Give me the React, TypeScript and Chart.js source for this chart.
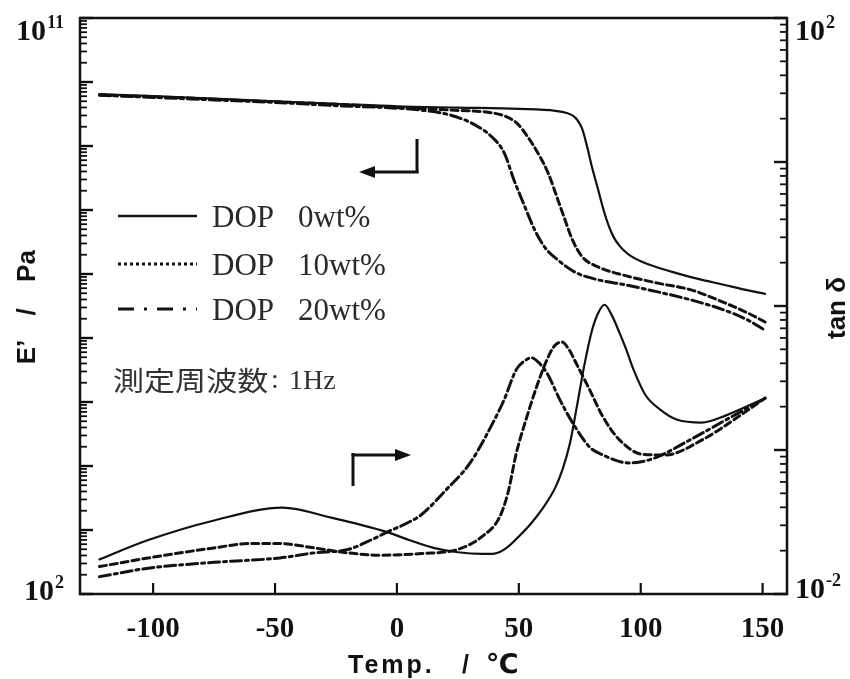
import React, { useEffect, useRef } from "react";
import { Chart, registerables } from "chart.js";

Chart.register(...registerables);

// ---------- data ----------
// Storage modulus E' (Pa)
const TEMP_E_DOP0 = [-122, -100, -75, -50, -25, 0, 25, 50, 65, 70, 72, 74, 76, 78, 80, 82.5, 85, 87, 89, 91, 93, 96, 100, 107, 114, 124, 134, 142, 151];
const E_DOP0 = [6.46e9, 6.03e9, 5.5e9, 5.0e9, 4.57e9, 4.17e9, 3.98e9, 3.8e9, 3.55e9, 3.25e9, 3.0e9, 2.55e9, 1.85e9, 9.8e8, 4.7e8, 2.1e8, 9.3e7, 5.5e7, 3.7e7, 2.85e7, 2.35e7, 1.9e7, 1.58e7, 1.26e7, 1.05e7, 8.3e6, 6.8e6, 5.75e6, 4.9e6];

const TEMP_E_DOP10 = [-122, -100, -75, -50, -25, 0, 25, 39, 45.5, 49.6, 53.7, 57.8, 62, 66, 69, 72, 76, 82.5, 93.4, 107, 121, 134, 144, 151];
const E_DOP10 = [6.3e9, 5.9e9, 5.4e9, 4.9e9, 4.5e9, 4.0e9, 3.6e9, 3.3e9, 2.8e9, 2.2e9, 1.38e9, 7.8e8, 3.8e8, 1.45e8, 6.9e7, 3.4e7, 1.86e7, 1.29e7, 9.5e6, 7.2e6, 5.6e6, 3.6e6, 2.45e6, 1.78e6];

const TEMP_E_DOP20 = [-122, -100, -75, -50, -25, 0, 11, 22.5, 32, 39, 44, 48, 52.5, 56.5, 60.7, 66, 73, 82.5, 93.4, 107, 121, 134, 144, 151];
const E_DOP20 = [6.2e9, 5.75e9, 5.25e9, 4.8e9, 4.27e9, 3.9e9, 3.6e9, 3.0e9, 2.14e9, 1.38e9, 7.8e8, 2.95e8, 1.12e8, 4.9e7, 2.6e7, 1.66e7, 1.07e7, 8.1e6, 6.8e6, 5.25e6, 3.9e6, 2.75e6, 1.9e6, 1.32e6];

// Loss tangent tan δ
const TEMP_T_DOP0 = [-122, -102, -75, -47, -27, -4, 5, 15, 25, 35, 40, 45, 50, 55, 60, 65, 68, 71, 74, 77, 80, 82.5, 85.2, 88, 91.4, 94, 97, 102, 108, 115, 125, 135, 151];
const TAN_DOP0 = [0.0174, 0.0237, 0.0324, 0.0398, 0.0339, 0.0269, 0.0237, 0.0209, 0.0195, 0.019, 0.0191, 0.0209, 0.0251, 0.0309, 0.0398, 0.055, 0.074, 0.112, 0.209, 0.398, 0.676, 0.891, 1.02, 0.871, 0.646, 0.501, 0.363, 0.24, 0.191, 0.162, 0.155, 0.174, 0.229];

const TEMP_T_DOP10 = [-122, -102, -75, -60, -48, -34, -20, -7, 10, 25, 35, 42, 45.5, 49, 53.3, 57.3, 61.5, 64.5, 67.6, 70.5, 73.6, 79, 84.5, 91.4, 100.8, 110, 125, 140, 151];
const TAN_DOP10 = [0.0155, 0.0178, 0.0209, 0.0224, 0.0224, 0.0209, 0.0193, 0.0186, 0.0191, 0.0204, 0.0251, 0.0339, 0.0501, 0.0955, 0.17, 0.275, 0.422, 0.525, 0.562, 0.501, 0.398, 0.263, 0.17, 0.117, 0.0933, 0.0923, 0.117, 0.17, 0.229];

const TEMP_T_DOP20 = [-122, -102, -75, -48, -34, -20, -10, -4, 5, 10, 20, 30, 40, 44, 49, 52.5, 55.2, 58, 61.5, 66.8, 72, 79, 84.5, 95, 105, 120, 135, 151];
const TAN_DOP20 = [0.0132, 0.0151, 0.0166, 0.0178, 0.0193, 0.0204, 0.024, 0.0269, 0.0316, 0.0355, 0.0525, 0.0813, 0.162, 0.224, 0.363, 0.417, 0.437, 0.407, 0.343, 0.224, 0.155, 0.105, 0.0923, 0.0813, 0.0871, 0.117, 0.162, 0.229];

// ---------- axes / labels ----------
const X_MIN = -130;
const X_MAX = 160;
const X_TICKS = [-100, -50, 0, 50, 100, 150];
const LEFT_MIN = 1e2;
const LEFT_MAX = 1e11;
const RIGHT_MIN = 1e-2;
const RIGHT_MAX = 1e2;
const LEFT_DECADES = [2, 3, 4, 5, 6, 7, 8, 9, 10, 11];
const RIGHT_DECADES = [-2, -1, 0, 1, 2];
const LEFT_END_LABELS = [
  { value: 1e11, exp: "11" },
  { value: 1e2, exp: "2" },
];
const RIGHT_END_LABELS = [
  { value: 1e2, exp: "2" },
  { value: 1e-2, exp: "-2" },
];
const SERIES_NAMES = ["DOP", "DOP", "DOP"];
const SERIES_AMOUNTS = ["0wt%", "10wt%", "20wt%"];
const X_TITLE = ["Temp.", "/", "℃"];
const Y_LEFT_TITLE = ["E’", "/", "Pa"];
const Y_RIGHT_TITLE = "tan δ";
const NOTE_JP = "測定周波数";
const NOTE_FREQ = "1Hz";

const INK = "#111";
const DASH_SOLID: number[] = [];
const DASH_DASHED = [7, 4];
const DASH_DOTDASH = [11, 4, 3, 4];

const pts = (xs: number[], ys: number[]) => xs.map((x, i) => ({ x, y: ys[i] }));

const SERIF = '"Liberation Serif", "Times New Roman", serif';
const SANS = '"Liberation Sans", Arial, "DejaVu Sans", sans-serif';

function line(ctx: CanvasRenderingContext2D, x1: number, y1: number, x2: number, y2: number) {
  ctx.beginPath();
  ctx.moveTo(x1, y1);
  ctx.lineTo(x2, y2);
  ctx.stroke();
}

function drawPow(ctx: CanvasRenderingContext2D, exp: string, x: number, y: number, align: "left" | "right") {
  const baseFont = `bold 30px ${SERIF}`;
  const expFont = `bold 18px ${SERIF}`;
  ctx.textAlign = "left";
  ctx.textBaseline = "alphabetic";
  ctx.font = baseFont;
  const wb = ctx.measureText("10").width;
  ctx.font = expFont;
  const we = ctx.measureText(exp).width;
  const start = align === "left" ? x : x - wb - we;
  ctx.font = baseFont;
  ctx.fillText("10", start, y);
  ctx.font = expFont;
  ctx.fillText(exp, start + wb + 1, y - 12);
}

const overlayPlugin = {
  id: "overlay",
  afterDraw(chart: any) {
    const { ctx, chartArea: a, scales } = chart;
    const xs = scales.x;
    const yl = scales.y;
    const yr = scales.y2;
    ctx.save();
    ctx.setLineDash([]);
    ctx.strokeStyle = INK;
    ctx.fillStyle = INK;

    // frame
    ctx.lineWidth = 2.5;
    ctx.strokeRect(a.left, a.top, a.right - a.left, a.bottom - a.top);

    // x ticks (inward)
    ctx.lineWidth = 2.2;
    for (const t of X_TICKS) {
      const px = xs.getPixelForValue(t);
      line(ctx, px, a.bottom, px, a.bottom - 11);
    }

    // left log ticks (inward)
    for (const d of LEFT_DECADES) {
      for (let k = 1; k <= 9; k++) {
        const v = k * Math.pow(10, d);
        if (v > LEFT_MAX * 1.0001) break;
        const py = yl.getPixelForValue(v);
        ctx.lineWidth = k === 1 ? 2.4 : 1.8;
        line(ctx, a.left, py, a.left + (k === 1 ? 13 : 7), py);
      }
    }
    // right log ticks (inward)
    for (const d of RIGHT_DECADES) {
      for (let k = 1; k <= 9; k++) {
        const v = k * Math.pow(10, d);
        if (v > RIGHT_MAX * 1.0001) break;
        const py = yr.getPixelForValue(v);
        ctx.lineWidth = k === 1 ? 2.4 : 1.8;
        line(ctx, a.right, py, a.right - (k === 1 ? 13 : 7), py);
      }
    }

    // x tick labels
    ctx.font = `bold 29px ${SERIF}`;
    ctx.textAlign = "center";
    ctx.textBaseline = "alphabetic";
    for (const t of X_TICKS) {
      ctx.fillText(String(t), xs.getPixelForValue(t), a.bottom + 43);
    }

    // end labels with exponents
    for (const l of LEFT_END_LABELS) {
      const py = yl.getPixelForValue(l.value);
      drawPow(ctx, l.exp, a.left - 17, py + (l.value === LEFT_MAX ? 22 : 6), "right");
    }
    for (const l of RIGHT_END_LABELS) {
      const py = yr.getPixelForValue(l.value);
      drawPow(ctx, l.exp, a.right + 8, py + (l.value === RIGHT_MAX ? 22 : 4), "left");
    }

    // x title
    ctx.font = `bold 25px ${SANS}`;
    ctx.textBaseline = "alphabetic";
    ctx.textAlign = "left";
    (ctx as any).letterSpacing = "3px";
    ctx.fillText(X_TITLE[0], 348, 673);
    (ctx as any).letterSpacing = "0px";
    ctx.fillText(X_TITLE[1], 462, 673);
    ctx.font = `bold 27px "DejaVu Sans", ${SANS}`;
    ctx.fillText(X_TITLE[2], 486, 673);

    // left y title (rotated)
    ctx.save();
    ctx.translate(28, 0);
    ctx.rotate(-Math.PI / 2);
    ctx.font = `bold 26px ${SANS}`;
    ctx.textAlign = "center";
    ctx.textBaseline = "middle";
    ctx.fillText(Y_LEFT_TITLE[0], -352, 0);
    ctx.fillText(Y_LEFT_TITLE[1], -312, 0);
    ctx.fillText(Y_LEFT_TITLE[2], -266, 0);
    ctx.restore();

    // right y title (rotated)
    ctx.save();
    ctx.translate(838, 308);
    ctx.rotate(-Math.PI / 2);
    ctx.font = `bold 26px ${SANS}`;
    ctx.textAlign = "center";
    ctx.textBaseline = "middle";
    ctx.fillText(Y_RIGHT_TITLE, 0, 0);
    ctx.restore();

    // legend
    const rows = [216, 264, 309];
    const legendDash = [DASH_SOLID, [3, 3], [16, 10, 3, 10]];
    const legendWidth = [2.4, 3, 3.2];
    rows.forEach((ry, i) => {
      ctx.lineWidth = legendWidth[i];
      ctx.setLineDash(legendDash[i]);
      line(ctx, 118, ry, 197, ry);
    });
    ctx.setLineDash([]);
    ctx.fillStyle = "#2a2a2a";
    ctx.font = `31px ${SERIF}`;
    ctx.textAlign = "left";
    ctx.textBaseline = "middle";
    rows.forEach((ry, i) => {
      ctx.fillText(SERIES_NAMES[i], 212, ry + 3);
      ctx.fillText(SERIES_AMOUNTS[i], 298, ry + 3);
    });

    // measurement note
    ctx.save();
    ctx.translate(113, 381);
    ctx.scale(1.15, 1);
    ctx.font = `27px "Noto Sans CJK JP", sans-serif`;
    ctx.textBaseline = "middle";
    ctx.fillStyle = "#333";
    ctx.fillText(NOTE_JP, 0, 0);
    ctx.restore();
    ctx.fillStyle = "#333";
    ctx.font = `28px ${SERIF}`;
    ctx.textBaseline = "middle";
    ctx.fillText(":", 271, 381);
    ctx.fillText(NOTE_FREQ, 289, 382);

    // arrows
    ctx.fillStyle = INK;
    ctx.strokeStyle = INK;
    ctx.lineWidth = 3;
    // E' arrow (points left)
    line(ctx, 417, 139, 417, 173);
    line(ctx, 418.5, 172, 372, 172);
    ctx.beginPath();
    ctx.moveTo(359, 172);
    ctx.lineTo(375, 166);
    ctx.lineTo(375, 178);
    ctx.closePath();
    ctx.fill();
    // tan δ arrow (points right)
    line(ctx, 353, 453, 353, 486);
    line(ctx, 351.5, 455, 398, 455);
    ctx.beginPath();
    ctx.moveTo(411, 455);
    ctx.lineTo(395, 449);
    ctx.lineTo(395, 461);
    ctx.closePath();
    ctx.fill();

    ctx.restore();
  },
};

export default function App() {
  const canvasRef = useRef<HTMLCanvasElement | null>(null);

  useEffect(() => {
    document.body.style.margin = "0";
    const canvas = canvasRef.current;
    if (!canvas) return;

    const common = {
      pointRadius: 0,
      fill: false,
      cubicInterpolationMode: "monotone" as const,
      borderColor: INK,
      borderCapStyle: "round" as const,
      borderJoinStyle: "round" as const,
    };

    const chart = new Chart(canvas, {
      type: "line",
      data: {
        datasets: [
          { ...common, label: "E' DOP 0wt%", data: pts(TEMP_E_DOP0, E_DOP0), yAxisID: "y", borderWidth: 2.2, borderDash: DASH_SOLID },
          { ...common, label: "E' DOP 10wt%", data: pts(TEMP_E_DOP10, E_DOP10), yAxisID: "y", borderWidth: 3, borderDash: DASH_DASHED },
          { ...common, label: "E' DOP 20wt%", data: pts(TEMP_E_DOP20, E_DOP20), yAxisID: "y", borderWidth: 3, borderDash: DASH_DOTDASH },
          { ...common, label: "tanδ DOP 0wt%", data: pts(TEMP_T_DOP0, TAN_DOP0), yAxisID: "y2", borderWidth: 2.2, borderDash: DASH_SOLID },
          { ...common, label: "tanδ DOP 10wt%", data: pts(TEMP_T_DOP10, TAN_DOP10), yAxisID: "y2", borderWidth: 3, borderDash: DASH_DASHED },
          { ...common, label: "tanδ DOP 20wt%", data: pts(TEMP_T_DOP20, TAN_DOP20), yAxisID: "y2", borderWidth: 3, borderDash: DASH_DOTDASH },
        ],
      },
      options: {
        animation: false,
        responsive: false,
        devicePixelRatio: 1,
        layout: { padding: { top: 18, left: 0, right: 0, bottom: 0 } },
        plugins: { legend: { display: false }, tooltip: { enabled: false } },
        scales: {
          x: {
            type: "linear",
            min: X_MIN,
            max: X_MAX,
            position: "bottom",
            grid: { display: false },
            border: { display: false },
            ticks: { display: false },
            afterFit: (s: any) => { s.height = 85; },
          },
          y: {
            type: "logarithmic",
            min: LEFT_MIN,
            max: LEFT_MAX,
            position: "left",
            grid: { display: false },
            border: { display: false },
            ticks: { display: false },
            afterFit: (s: any) => { s.width = 80; },
          },
          y2: {
            type: "logarithmic",
            min: RIGHT_MIN,
            max: RIGHT_MAX,
            position: "right",
            grid: { display: false },
            border: { display: false },
            ticks: { display: false },
            afterFit: (s: any) => { s.width = 63; },
          },
        },
      } as any,
      plugins: [overlayPlugin],
    });

    return () => chart.destroy();
  }, []);

  return (
    <div style={{ width: 850, height: 679, position: "relative", background: "#fff" }}>
      <canvas ref={canvasRef} width={850} height={679} style={{ display: "block" }} />
    </div>
  );
}
